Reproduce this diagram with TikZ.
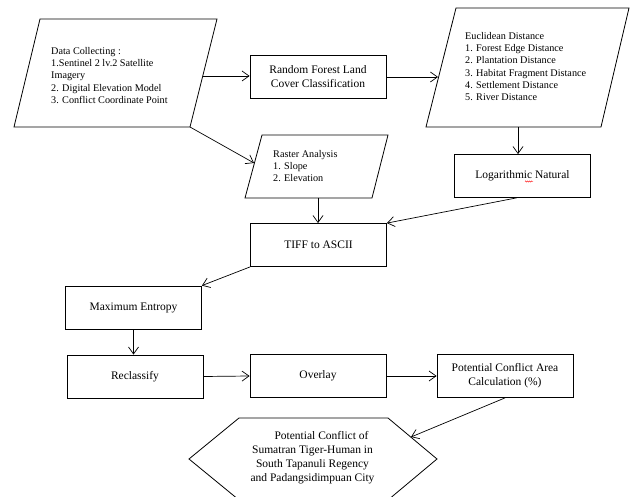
\documentclass[tikz,border=0pt]{standalone}
\usepackage{fontspec}
\setmainfont{Liberation Serif}
\usetikzlibrary{arrows.meta,decorations.pathmorphing}
\begin{document}
\begin{tikzpicture}[x=1pt,y=-1pt,
  box/.style={draw,line width=0.8pt,minimum width=136pt,minimum height=43pt,inner sep=0pt,align=center,font=\fontsize{11.5}{14}\selectfont},
  ptext/.style={anchor=north west,align=left,inner sep=0pt,font=\fontsize{10.2}{12.2}\selectfont},
  shp/.style={draw,line width=0.8pt},
  conn/.style={line width=0.7pt,-{Straight Barb[length=7pt,width=10pt]}}]
\useasboundingbox (0,0) rectangle (630,497);

% Data collecting parallelogram
\draw[shp] (40,19) -- (217,19) -- (190,127) -- (14,127) -- cycle;
\node[ptext] (dct) at (51,47.2) {Data Collecting :\\1.Sentinel 2 lv.2 Satellite\\Imagery\\2. Digital Elevation Model\\3. Conflict Coordinate Point};
\coordinate (dce) at (203,76);
\coordinate (dcbr) at (190,127);

% Euclidean parallelogram
\draw[shp] (456,8) -- (629,8) -- (601,127) -- (426,127) -- cycle;
\node[ptext] (euct) at (465,32.2) {Euclidean Distance\\1. Forest Edge Distance\\2. Plantation Distance\\3. Habitat Fragment Distance\\4. Settlement Distance\\5. River Distance};
\coordinate (eucw) at (438,76);
\coordinate (eucs) at (518,127);

% Raster parallelogram
\draw[shp] (262,135) -- (388,135) -- (372,198) -- (245,198) -- cycle;
\node[ptext] (rast) at (273,150.2) {Raster Analysis\\1. Slope\\2. Elevation};
\coordinate (rasw) at (254,163);
\coordinate (rass) at (318,198);

% Boxes
\node[box] (rf) at (318,77) {Random Forest Land\\Cover Classification};
\node[box] (log) at (522.5,176) {Logarithmic Natural};
\node[box] (tiff) at (318.5,245) {TIFF to ASCII};
\node[box] (maxent) at (133.5,307.5) {Maximum Entropy};
\node[box] (recl) at (135,376.5) {Reclassify};
\node[box] (overlay) at (318,376) {Overlay};
\node[box] (pcac) at (505,376) {Potential Conflict Area\\Calculation (\%)};

% spell-check squiggle
\draw[red,line width=0.4pt,decorate,decoration={snake,amplitude=0.6pt,segment length=2pt}] (525,181.5) -- (533,181.5);

% Hexagon
\draw[shp] (239,418) -- (388,418) -- (437,459) -- (388,500) -- (239,500) -- (189,459) -- cycle;
\node[align=center,inner sep=0pt,font=\fontsize{11.5}{14}\selectfont] (hext) at (312.5,458) {\hspace*{18pt}Potential Conflict of\\Sumatran Tiger-Human in\\South Tapanuli Regency\\and Padangsidimpuan City};
\coordinate (hexne) at (411,437);

% Connectors
\draw[conn] (dce) -- (dce -| rf.west);
\draw[conn] (rf.east) -- (eucw |- rf.east);
\draw[conn] (dcbr) -- (rasw);
\draw[conn] (rass) -- (rass |- tiff.north);
\draw[conn] (eucs) -- (eucs |- log.north);
\draw[conn] ([xshift=-6pt]log.south) -- (tiff.north east);
\draw[conn] (tiff.south west) -- (maxent.north east);
\draw[conn] (maxent.south) -- (maxent.south |- recl.north);
\draw[conn] (recl.east) -- (overlay.west);
\draw[conn] (overlay.east) -- (pcac.west);
\draw[conn] (pcac.south) -- (hexne);
\end{tikzpicture}
\end{document}
